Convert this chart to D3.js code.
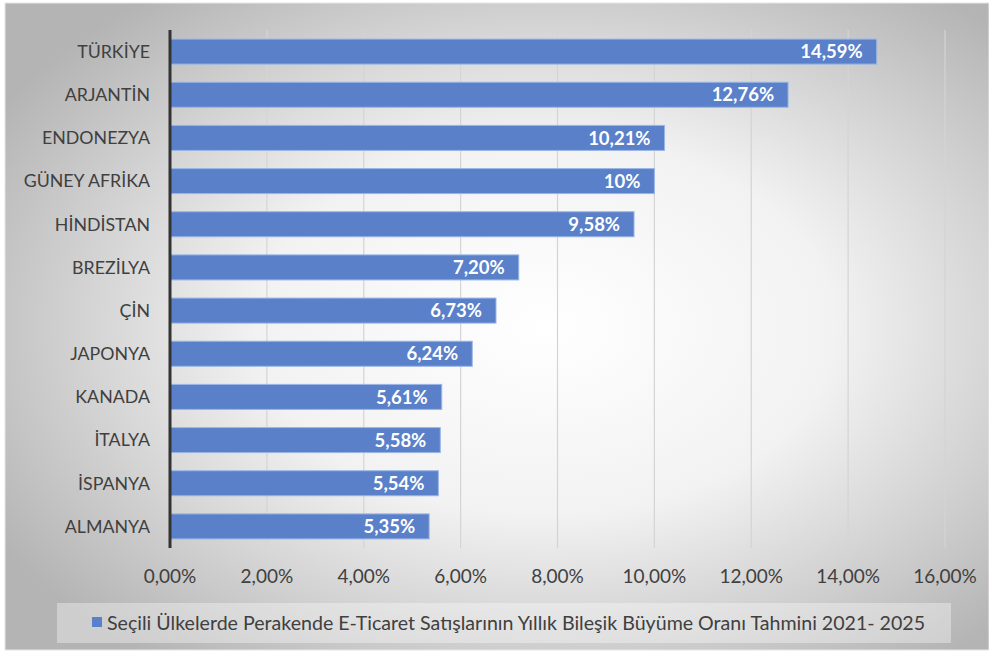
<!DOCTYPE html>
<html>
<head>
<meta charset="utf-8">
<script src="https://cdn.jsdelivr.net/npm/d3@7"></script>
<style>
  body { margin: 0; background: #fff; }
  svg { display: block; font-family: Lato, "Open Sans", sans-serif; }
</style>
</head>
<body>
<div id="chart"></div>
<script>
// data
let countries = ["TÜRKİYE", "ARJANTİN", "ENDONEZYA", "GÜNEY AFRİKA", "HİNDİSTAN", "BREZİLYA",
  "ÇİN", "JAPONYA", "KANADA", "İTALYA", "İSPANYA", "ALMANYA"];
let growth = [14.59, 12.76, 10.21, 10, 9.58, 7.20, 6.73, 6.24, 5.61, 5.58, 5.54, 5.35];
let valueLabels = ["14,59%", "12,76%", "10,21%", "10%", "9,58%", "7,20%", "6,73%", "6,24%",
  "5,61%", "5,58%", "5,54%", "5,35%"];
let xTicks = [0, 2, 4, 6, 8, 10, 12, 14, 16];
let legendLabel = "Seçili Ülkelerde Perakende E-Ticaret Satışlarının Yıllık Bileşik Büyüme Oranı Tahmini 2021- 2025";

let width = 989, height = 657;
let margin = {top: 30, right: 44, bottom: 109, left: 170};

let svg = d3.select("#chart").append("svg")
    .attr("width", width)
    .attr("height", height);

// background gradient
let defs = svg.append("defs");
let grad = defs.append("radialGradient")
    .attr("id", "bg")
    .attr("cx", "55%").attr("cy", "50%").attr("r", "65%");
grad.append("stop").attr("offset", "0%").attr("stop-color", "#ffffff");
grad.append("stop").attr("offset", "45%").attr("stop-color", "#f2f2f2");
grad.append("stop").attr("offset", "100%").attr("stop-color", "#b4b4b4");

svg.append("rect")
    .attr("x", 5).attr("y", 3)
    .attr("width", width - 5).attr("height", 647)
    .attr("fill", "url(#bg)")
    .attr("stroke", "#e6e6e6");

let x = d3.scaleLinear()
    .domain([0, 16])
    .range([margin.left, width - margin.right]);

let y = d3.scaleBand()
    .domain(countries)
    .range([margin.top, height - margin.bottom])
    .paddingInner(0.42)
    .paddingOuter(0.21);

let g = svg.append("g");

// gridlines
g.selectAll(".grid")
    .data(xTicks.slice(1))
    .enter()
    .append("line")
    .attr("x1", d => x(d)).attr("x2", d => x(d))
    .attr("y1", margin.top).attr("y2", height - margin.bottom)
    .attr("stroke", "#d4d4d4")
    .attr("stroke-width", 1.2);

// bars
g.selectAll(".bar")
    .data(growth)
    .enter()
    .append("rect")
    .attr("x", x(0))
    .attr("y", (d, i) => y(countries[i]))
    .attr("width", d => x(d) - x(0))
    .attr("height", y.bandwidth())
    .attr("fill", "#5a80ca")
    .attr("stroke", "#9ab6e6")
    .attr("stroke-width", 1);

// value labels
g.selectAll(".val")
    .data(growth)
    .enter()
    .append("text")
    .attr("x", d => x(d) - 14)
    .attr("y", (d, i) => y(countries[i]) + y.bandwidth() / 2)
    .attr("dy", "0.36em")
    .attr("text-anchor", "end")
    .attr("fill", "#fff")
    .attr("font-weight", "bold")
    .attr("font-size", 18.5)
    .text((d, i) => valueLabels[i]);

// category labels
g.selectAll(".cat")
    .data(countries)
    .enter()
    .append("text")
    .attr("x", margin.left - 20)
    .attr("y", d => y(d) + y.bandwidth() / 2)
    .attr("dy", "0.36em")
    .attr("text-anchor", "end")
    .attr("fill", "#404040")
    .attr("font-size", 17.8)
    .text(d => d);

// y axis line
g.append("line")
    .attr("x1", x(0)).attr("x2", x(0))
    .attr("y1", margin.top).attr("y2", height - margin.bottom)
    .attr("stroke", "#333")
    .attr("stroke-width", 3);

// x tick labels
g.selectAll(".tick")
    .data(xTicks)
    .enter()
    .append("text")
    .attr("x", d => x(d))
    .attr("y", 583)
    .attr("text-anchor", "middle")
    .attr("fill", "#404040")
    .attr("font-size", 19)
    .text(d => d3.format(".2f")(d).replace(".", ",") + "%");

// legend
let leg = svg.append("g");
leg.append("rect")
    .attr("x", 57).attr("y", 603)
    .attr("width", 894).attr("height", 40)
    .attr("fill", "#ffffff").attr("fill-opacity", 0.35);
leg.append("rect")
    .attr("x", 92).attr("y", 617)
    .attr("width", 10).attr("height", 10)
    .attr("fill", "#5a80ca");
leg.append("text")
    .attr("x", 107).attr("y", 623)
    .attr("dy", "0.36em")
    .attr("fill", "#404040")
    .attr("font-size", 19.6)
    .text(legendLabel);
</script>
</body>
</html>
